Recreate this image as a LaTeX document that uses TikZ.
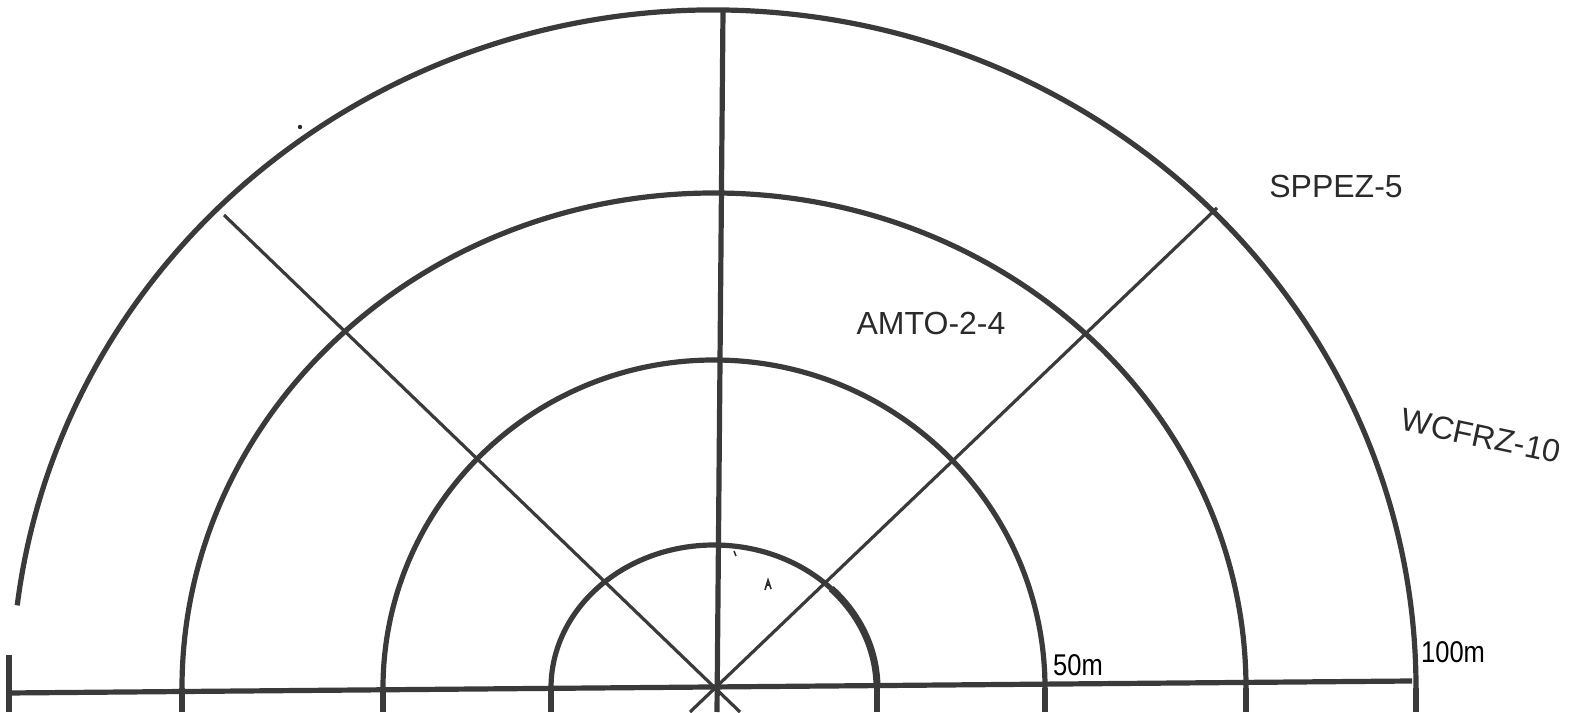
\documentclass[tikz,border=0pt]{standalone}
\usepackage{fontspec}
\setmainfont{Liberation Sans}
\definecolor{ink}{HTML}{3A3A3A}
\definecolor{pen}{HTML}{2A2A2A}
\begin{document}
\begin{tikzpicture}[x=1pt,y=1pt,
  ring/.style={draw=ink, line width=5.2pt},
  spoke/.style={draw=ink, line width=3.2pt},
  hand/.style={text=pen, inner sep=0pt, font=\fontsize{32}{32}\selectfont},
  scalelabel/.style={text=black, inner sep=0pt, font=\fontsize{30}{30}\selectfont, xscale=0.85}]
\useasboundingbox (0,0) rectangle (1570,712);
\coordinate (C) at (714,24);
% baseline
\coordinate (bl) at (8,19);
\coordinate (br) at (1412,31);
\draw[ring] (bl) -- (br);
% rings
\draw[ring] (C) ++(-163,0) arc[start angle=180,end angle=0,x radius=163pt,y radius=143pt];
\draw[ring] (C) ++(-331,0) arc[start angle=180,end angle=0,x radius=331pt,y radius=328pt];
\draw[ring] (C) ++(-532,0) arc[start angle=180,end angle=0,x radius=532pt,y radius=495pt];
\draw[ring] (C) ++(173:702pt and 678pt) arc[start angle=173,end angle=0,x radius=702pt,y radius=678pt];
\draw[draw=ink, line width=7pt] (C) ++(44:163pt and 143pt) arc[start angle=44,end angle=0,x radius=163pt,y radius=143pt];
% ticks below baseline
\foreach \tx in {182,383,551,877,1045,1246,1416}{
  \draw[ring] (\tx,24) -- (\tx,0);
}
\draw[ring] (9,0) -- (9,57);
% spokes
\coordinate (ulo) at (740,0);
\coordinate (ult) at (224,497);
\coordinate (uro) at (690,0);
\coordinate (urt) at (1217,504);
\coordinate (vb) at (717,0);
\coordinate (vt) at (723,702);
\draw[spoke] (ulo) -- (ult);
\draw[spoke] (uro) -- (urt);
\draw[ring] (vb) -- (vt);
% pen marks
\fill[pen] (300,585) circle (2.2pt);
\draw[pen, line width=1.5pt] (734,161) -- (736,156);
\draw[pen, line width=1.6pt] (765,122) -- (768,132) -- (771,123) (766,127) -- (770,127);
% labels
\node[scalelabel, anchor=west] (l50) at (1053,47) {50m};
\node[scalelabel, anchor=west] (l100) at (1421,60) {100m};
\node[hand] (sppez) at (1336,526) {SPPEZ-5};
\node[hand] (amto) at (931,389) {AMTO-2-4};
\node[hand, rotate=-12] (wcfrz) at (1481,276) {WCFRZ-10};
\end{tikzpicture}
\end{document}
